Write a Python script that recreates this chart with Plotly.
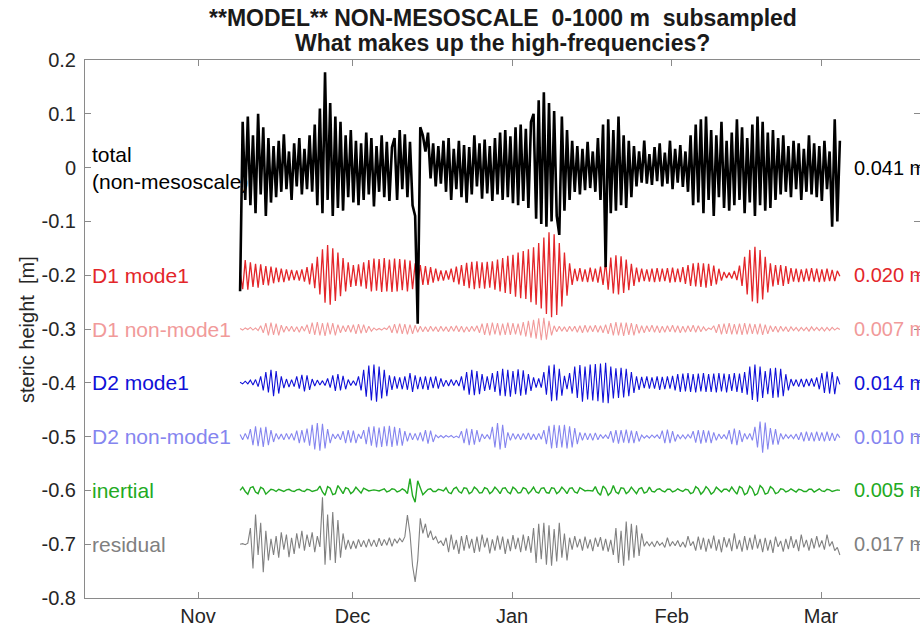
import pandas as pd
import plotly.graph_objects as go

# ---- data (steric-height anomalies in mm, 12-hourly samples from 2011-11-09) ----
start = "2011-11-09 04:00"
labels = ["total<br>(non-mesoscale)", "D1 mode1", "D1 non-mode1", "D2 mode1",
          "D2 non-mode1", "inertial", "residual"]
rms_text = ["0.041 m", "0.020 m", "0.007 m", "0.014 m", "0.010 m", "0.005 m", "0.017 m"]
offsets = [0.0, -0.2, -0.3, -0.4, -0.5, -0.6, -0.7]
colors = ["#000000", "#e3262a", "#f19a9a", "#1010d8", "#8585ef", "#22aa22", "#808080"]

total = [
    -230, 85, -60, 95, -70, 60, -85, 100, -50, 75, -90, 55, -65, 40, -55, 50, -45, 62, -40, 30,
    -60, 45, -35, 55, -50, 35, -40, 60, -45, 80, -70, 110, -85, 177, -60, 120, -90, 95, -75, 85,
    -80, 60, -55, 70, -65, 50, -70, 45, -60, 65, -50, 55, -72, 40, -45, 60, -55, 48, -62, 38,
    55, -60, 70, -40, 62, -55, 48, -70, -90, -290, 75, 60, 30, 65, -20, 45, -35, 40, -30, 50,
    -45, 55, -60, 35, -40, 50, -55, 42, -65, 38, -50, 60, -35, 45, -58, 52, -48, 40, -62, 55,
    -50, 65, -60, 70, -55, 58, -66, 75, -70, 80, -62, 72, -75, 85, 100, -95, 125, -105, 140, -110,
    120, -100, 105, -90, -125, 95, -80, 70, -60, 50, -45, 40, -50, 35, -42, 48, -38, 30, -45, 55,
    -60, 80, -185, 90, -85, 70, -80, 95, -70, 60, -75, 50, -55, 40, -35, 30, -28, 50, -30, 25,
    -32, 38, -25, 45, -35, 28, -30, 50, -40, 35, -28, 42, -36, 30, -45, 60, -70, 80, -65, 90,
    -85, 95, -60, 70, -90, 60, -55, 85, -75, 50, -80, 65, -70, 90, -60, 75, -85, 55, -65, 80,
    -90, 95, -70, 85, -80, 65, -75, 70, -60, 55, -50, 60, -45, 40, -55, 50, -40, 45, -60, 35,
    -45, 60, -50, 45, -55, 40, -62, 50, -40, 30, -110, 90, -100, 50]

d1_mode1 = [
    5, -26, 28, -27, 24, -22, 21, -23, 20, -18, 17, -19, 16, -15, 14, -13, 12, -13, 11, -10,
    10, -9, 9, -10, 11, -12, 15, -17, 22, -24, 34, -36, 48, -51, 56, -55, 50, -48, 42, -39,
    32, -30, 24, -22, 19, -20, 20, -21, 24, -25, 28, -30, 31, -29, 30, -31, 32, -30, 29, -31,
    31, -30, 30, -28, 29, -30, 27, -26, 22, -20, 19, -18, 17, -18, 15, -14, 12, -11, 9, -10,
    9, -8, 12, -13, 16, -17, 19, -20, 23, -24, 25, -26, 26, -24, 24, -25, 25, -23, 26, -27,
    29, -30, 32, -33, 36, -35, 38, -40, 42, -43, 45, -44, 48, -50, 52, -55, 60, -62, 70, -72,
    80, -78, 76, -74, 60, -58, 42, -38, 22, -18, 12, -11, 13, -12, 11, -13, 14, -12, 12, -14,
    16, -18, 25, -27, 33, -34, 37, -36, 35, -33, 29, -28, 21, -20, 14, -13, 12, -11, 11, -12,
    12, -13, 13, -12, 12, -11, 13, -14, 14, -13, 12, -13, 15, -16, 19, -20, 22, -21, 23, -22,
    22, -23, 21, -20, 18, -17, 12, -10, 6, -5, 5, -6, 8, -9, 18, -20, 34, -36, 47, -49,
    53, -52, 47, -45, 34, -32, 22, -21, 19, -18, 19, -20, 17, -16, 13, -12, 12, -13, 11, -12,
    12, -11, 13, -12, 12, -13, 11, -12, 12, -11, 10, -11, 8, -2]

d1_nonmode1 = [
    1, -2, 2, -1, 3, -2, 2, -3, 6, -7, 11, -12, 12, -11, 10, -12, 7, -6, 5, -4,
    5, -5, 4, -6, 5, -4, 8, -9, 12, -11, 13, -12, 11, -13, 12, -10, 11, -12, 8, -7,
    6, -5, 7, -6, 8, -9, 9, -8, 8, -7, 5, -4, 2, -2, 1, -2, 2, -1, 6, -7,
    9, -8, 10, -9, 9, -10, 8, -9, 7, -6, 5, -5, 4, -5, 5, -4, 4, -5, 5, -4,
    4, -5, 5, -4, 6, -5, 5, -6, 4, -5, 5, -4, 6, -7, 10, -11, 11, -12, 12, -10,
    11, -12, 10, -11, 12, -11, 11, -10, 10, -12, 13, -14, 15, -16, 17, -18, 20, -21, 21, -20,
    15, -12, 6, -5, 5, -4, 4, -5, 5, -4, 5, -6, 6, -7, 7, -6, 6, -5, 7, -6,
    6, -7, 8, -9, 11, -12, 13, -12, 12, -13, 12, -11, 11, -12, 9, -8, 6, -7, 6, -5,
    7, -6, 6, -7, 5, -6, 6, -5, 7, -6, 6, -7, 5, -6, 6, -5, 7, -6, 6, -5,
    4, -3, 2, -1, 6, -7, 9, -10, 10, -9, 11, -10, 9, -10, 10, -11, 11, -10, 10, -9,
    9, -10, 10, -11, 8, -9, 6, -5, 5, -6, 5, -4, 4, -5, 4, -3, 3, -4, 3, -3,
    3, -4, 4, -3, 3, -3, 3, -4, 3, -3, 3, -2, 2, -1]

d2_mode1 = [
    1, -2, 3, -2, 5, -4, 6, -7, 12, -14, 20, -18, 24, -25, 22, -20, 12, -10, 7, -8,
    6, -7, 12, -11, 15, -16, 14, -13, 7, -6, 5, -4, 4, -5, 8, -9, 14, -15, 16, -14,
    13, -12, 6, -5, 4, -5, 12, -14, 24, -26, 32, -33, 34, -35, 30, -29, 24, -25, 14, -13,
    12, -11, 10, -12, 12, -13, 18, -17, 14, -12, 11, -12, 12, -13, 11, -10, 12, -11, 8, -7,
    5, -6, 6, -5, 5, -6, 12, -14, 20, -22, 24, -23, 22, -21, 16, -15, 12, -13, 18, -17,
    22, -24, 26, -25, 24, -26, 22, -21, 25, -24, 23, -22, 16, -15, 10, -9, 8, -9, 20, -22,
    32, -34, 34, -33, 26, -24, 13, -12, 18, -20, 30, -28, 33, -35, 30, -31, 34, -33, 35, -34,
    36, -37, 37, -38, 30, -29, 27, -28, 28, -27, 26, -25, 20, -19, 12, -13, 11, -10, 12, -11,
    10, -11, 12, -13, 11, -12, 12, -11, 13, -14, 16, -17, 17, -16, 18, -17, 16, -18, 17, -16,
    18, -17, 16, -17, 17, -18, 18, -16, 17, -18, 16, -15, 18, -17, 17, -19, 20, -22, 30, -32,
    34, -35, 30, -28, 22, -21, 27, -28, 28, -27, 26, -25, 16, -14, 7, -6, 6, -7, 7, -8,
    7, -6, 8, -7, 10, -12, 18, -19, 21, -20, 20, -21, 12, -3]

d2_nonmode1 = [
    4, -6, 6, -5, 14, -16, 19, -18, 17, -19, 18, -16, 12, -10, 6, -5, 5, -6, 6, -5,
    6, -7, 11, -12, 12, -11, 15, -17, 22, -24, 25, -26, 24, -22, 14, -12, 5, -4, 5, -6,
    10, -12, 12, -11, 11, -12, 5, -4, 12, -14, 18, -17, 19, -20, 17, -19, 19, -18, 20, -19,
    18, -17, 16, -17, 10, -9, 7, -6, 6, -7, 8, -9, 12, -13, 11, -10, 3, -2, 2, -2,
    2, -1, 2, -2, 1, -2, 10, -12, 15, -16, 14, -15, 12, -10, 5, -4, 4, -5, 18, -20,
    25, -24, 22, -21, 8, -7, 6, -5, 5, -6, 6, -5, 7, -6, 5, -6, 6, -5, 12, -14,
    20, -22, 22, -21, 21, -20, 22, -22, 19, -20, 16, -14, 8, -7, 7, -6, 6, -7, 7, -6,
    4, -3, 3, -4, 10, -11, 12, -13, 12, -11, 13, -12, 11, -12, 10, -9, 3, -3, 2, -3,
    3, -2, 3, -4, 11, -12, 13, -12, 10, -9, 4, -4, 3, -4, 4, -3, 10, -11, 12, -13,
    12, -11, 11, -12, 8, -7, 5, -4, 4, -5, 12, -14, 15, -16, 12, -10, 6, -5, 6, -7,
    18, -20, 28, -30, 26, -24, 16, -15, 14, -15, 6, -5, 4, -3, 3, -4, 5, -6, 8, -9,
    9, -8, 8, -9, 9, -8, 8, -9, 9, -8, 7, -8, 5, -2]

inertial = [
    0, 6, -2, -7, 5, 7, -3, -6, 6, 3, -7, -2, 2, 1, -2, 2, 0, -2, 1, 2,
    -1, -2, 1, 2, -1, -2, 2, 1, -2, -1, 1, 8, -3, -9, 7, 4, -8, -6, 9, 2,
    -6, 5, 3, -6, -2, 6, 1, -5, 4, 2, -1, 0, 1, 0, -1, 1, 3, -3, -1, 3,
    2, -3, -1, 3, 0, -6, 22, -10, -22, 18, 6, -8, -3, 2, 3, -2, -2, 2, 1, -1,
    5, -4, -6, 3, 6, -2, -5, 5, 4, -6, -3, 6, 2, -5, -4, 5, 3, -6, -2, 6,
    1, -6, 4, 5, -3, -6, 6, 2, -5, -4, 5, 3, -6, -1, 6, -3, -5, 4, 5, -4,
    -5, 5, 4, -6, -2, 6, 1, -6, 4, 5, -3, -5, 5, 2, -1, 0, 0, -1, 7, -4,
    -9, 8, 3, -9, -4, 9, -3, -6, 5, 4, -6, -2, 6, 1, -6, 3, 5, -5, -3, 6,
    -2, -3, 2, 3, -1, -3, 2, 2, -3, -1, 3, 0, -2, 2, 1, -6, -4, 7, 3, -7,
    -2, 7, 2, -7, -3, 6, 1, -3, 2, 2, -2, 6, -1, -7, 7, 4, -8, -5, 8, 3,
    -9, -6, 9, 4, -7, -5, 7, 3, -6, -4, 3, 2, -3, -1, 3, 0, -3, 2, 1, -2,
    -2, 2, 2, -3, 0, 3, -1, -2, 2, 1, -2, -1, 1, 0]

residual = [
    0, 1, -1, 2, 30, -45, 55, -20, 40, -52, 25, -30, 10, -20, 15, -25, 22, -10, 18, -24,
    12, -18, 20, -8, 25, -12, 18, -5, 22, -15, 15, -5, 87, -38, 55, -30, 60, -35, 45, -25,
    20, -10, 8, -9, 6, -8, 9, -5, 7, -6, 10, -4, 8, -5, 11, -3, 9, -2, 12, -4,
    10, 2, 11, 4, 14, 54, 20, -40, -70, -30, 48, 20, 38, 12, 25, 8, 14, 2, 6, -3,
    12, -15, 18, -10, 8, -18, 15, -12, 17, -8, 10, -16, 14, -14, 18, -6, 12, -17, 9, -12,
    16, -10, 14, -18, 10, -13, 17, -9, 12, -15, 18, -12, 15, -16, 30, -35, 38, -28, 40, -38,
    35, -40, 28, -32, 40, -25, 20, -30, 12, -10, 15, -6, 10, -12, 14, -8, 9, -13, 12, -5,
    13, -12, 10, -14, 8, -20, 30, -35, 25, -40, 42, -30, 38, -25, 35, -22, 20, -4, 5, -3,
    4, -5, 6, -2, 3, -6, 12, -4, 5, -3, 7, -5, 4, -6, 15, -3, 5, -12, 14, -10,
    12, -14, 10, -8, 16, -12, 9, -15, 13, -6, 11, -13, 20, -9, 8, -14, 15, -11, 12, -10,
    18, -8, 10, -15, 12, -12, 8, -16, 14, -5, 6, -14, 10, -9, 15, -7, 9, -13, 18, -6,
    8, -12, 11, -8, 15, -6, 7, -10, 18, -4, 5, -12, -6, -20]

series = [total, d1_mode1, d1_nonmode1, d2_mode1, d2_nonmode1, inertial, residual]
widths = [2.6, 1.3, 1.1, 1.1, 1.1, 1.4, 1.1]

month_ticks = ["2011-11-01", "2011-12-01", "2012-01-01", "2012-02-01", "2012-03-01"]
month_text = ["Nov", "Dec", "Jan", "Feb", "Mar"]
y_ticks = [0.2, 0.1, 0.0, -0.1, -0.2, -0.3, -0.4, -0.5, -0.6, -0.7, -0.8]
y_text = ["0.2", "0.1", "0", "-0.1", "-0.2", "-0.3", "-0.4", "-0.5", "-0.6", "-0.7", "-0.8"]

FONT = "Liberation Sans, Arial, Helvetica, sans-serif"

fig = go.Figure()
order = [6, 5, 4, 3, 2, 1, 0]  # black total drawn on top
for k in order:
    vals = series[k]
    t = pd.date_range(start, periods=len(vals), freq="12h")
    y = [offsets[k] + v / 1000.0 for v in vals]
    fig.add_trace(go.Scatter(x=t, y=y, mode="lines",
                             line=dict(color=colors[k], width=widths[k]),
                             showlegend=False, hoverinfo="skip"))

# left labels and right rms labels
for k in range(7):
    fig.add_annotation(xref="paper", yref="y", x=0.006, y=offsets[k],
                       text=labels[k], showarrow=False, xanchor="left", yanchor="middle",
                       align="left", font=dict(family=FONT, size=21, color=colors[k]))
    fig.add_annotation(xref="paper", yref="y", x=0.918, y=offsets[k],
                       text=rms_text[k], showarrow=False, xanchor="left", yanchor="middle",
                       font=dict(family=FONT, size=20, color=colors[k]))

# title lines
fig.add_annotation(xref="paper", yref="paper", x=0.5, y=1.078,
                   text="<b>**MODEL** NON-MESOSCALE&nbsp; 0-1000 m&nbsp; subsampled</b>",
                   showarrow=False, xanchor="center", yanchor="middle",
                   font=dict(family=FONT, size=23, color="#1a1a1a"))
fig.add_annotation(xref="paper", yref="paper", x=0.5, y=1.0316,
                   text="<b>What makes up the high-frequencies?</b>",
                   showarrow=False, xanchor="center", yanchor="middle",
                   font=dict(family=FONT, size=23, color="#1a1a1a"))
# y axis title
fig.add_annotation(xref="paper", yref="paper", x=-0.0695, y=0.5,
                   text="steric height&nbsp; [m]", textangle=-90, showarrow=False,
                   xanchor="center", yanchor="middle",
                   font=dict(family=FONT, size=20, color="#262626"))

fig.update_layout(
    width=920, height=630,
    margin=dict(l=85, r=0, t=60, b=32),
    plot_bgcolor="white", paper_bgcolor="white",
    font=dict(family=FONT, size=20, color="#262626"),
    xaxis=dict(type="date", range=["2011-10-10 01:00", "2012-03-20 05:30"],
               tickvals=month_ticks, ticktext=month_text,
               ticks="inside", ticklen=6, tickcolor="#8a8a8a",
               showline=True, linecolor="#8a8a8a", linewidth=1, mirror="ticks",
               showgrid=False, zeroline=False,
               tickfont=dict(family=FONT, size=20, color="#262626")),
    yaxis=dict(range=[-0.8, 0.2], tickvals=y_ticks, ticktext=y_text,
               ticks="inside", ticklen=6, tickcolor="#8a8a8a",
               showline=True, linecolor="#8a8a8a", linewidth=1, mirror="ticks",
               showgrid=False, zeroline=False, ticklabelstandoff=4,
               tickfont=dict(family=FONT, size=20, color="#262626")),
)

fig.write_html("out.html")
